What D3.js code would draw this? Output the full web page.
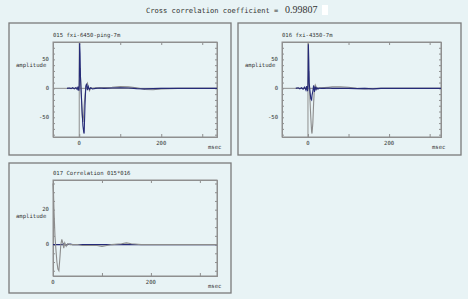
<!DOCTYPE html>
<html>
<head>
<meta charset="utf-8">
<script src="https://cdn.jsdelivr.net/npm/d3@7"></script>
<style>
  html, body { margin: 0; padding: 0; background: #e8f3f5; }
  svg { display: block; }
  text { font-family: "DejaVu Sans Mono", monospace; fill: #333; }
</style>
</head>
<body>
<svg width="468" height="299"></svg>
<script>
"use strict";

// 상단 제목
const titleText = "Cross correlation coefficient =";
const coefValue = "0.99807";

// 패널 제목
const panelTitles = ["015 fxi-6450-ping-7m", "016 fxi-4350-7m", "017 Correlation 015*016"];

// 패널 1 (015) 시간축, 파형 값
const t1 = [-30, -24, -20, -16, -12, -8, -5, -3, -1, 0, 1, 2, 3, 5, 7, 9, 11, 12, 14, 16, 18, 20, 22, 25, 28, 32, 40, 50, 60, 80, 100, 120, 140, 160, 180, 200, 240, 280, 336];
const blue1 = [0, 0.5, -0.5, 1, -1, 1.5, -2, 3, -4, 5, 78, 60, 20, -10, -40, -65, -76, -78, -30, 4, 8, -3, 3, -2, 1, -1, 0, 0.5, 0, 0.5, 1, 0.5, -0.5, -1, -0.5, 0, 0, 0, 0];
const gray1 = [0, 0, 0, 0, 0, 0.5, -1, 1, -2, 2, 20, 35, 20, -10, -45, -58, -45, -30, -12, 0, 6, 9, 2, -4, 1, 0, 1, 1, 1.5, 2, 3, 2.5, 1, -2, -2.5, -1, 0, 0, 0];

// 패널 2 (016)
const t2 = [-30, -24, -20, -16, -12, -8, -5, -3, -1, 0, 1, 2, 3, 5, 7, 9, 10, 12, 14, 16, 18, 20, 22, 25, 28, 32, 40, 50, 60, 80, 100, 120, 140, 160, 180, 200, 240, 280, 328];
const blue2 = [0, 1, -1, 1, -1.5, 2, -3, 4, -5, 4, 76, 50, 10, -5, -18, -20, -12, -5, 5, -6, 3, -2, 1, -1, 0.5, 0, 0, 0.5, 0, 0, 0, -0.5, 0, -1, 0, 0, 0, 0, 0];
const gray2 = [0, 0, 0, 0, 0, 0.5, -1, 2, -2, 3, 20, 30, 10, -20, -50, -75, -78, -60, -25, 0, 6, 3, -2, 1, 0, 1, 1.5, 2, 2.5, 2.5, 2, 0, -1, -0.5, 0, 0, 0, 0, 0];

// 패널 3 (상관)
const t3 = [0, 1, 2, 4, 6, 8, 10, 12, 14, 16, 18, 20, 22, 24, 27, 30, 35, 40, 50, 60, 80, 90, 100, 110, 120, 140, 150, 160, 180, 200, 240, 280, 335];
const gray3 = [35, 30, 20, 5, -3, -10, -14, -15, -8, 0, 3, 1, -2, 1, -1, 0.5, 0, 0, 0, -0.5, -0.5, -0.5, -1, -0.5, 0, 0.5, 1, 0.5, 0, 0, 0, 0, 0];
const blue3 = [0, 0, 0, 0, 0, 0, 0, 0, 0, 0, 0, 0, 0.5, 0, -0.5, 0, 0.3, 0, 0, 0, 0, 0, 0, 0, 0, 0, 0, 0, 0, 0, 0, 0, 0];

const navy = "#252a78";
const grey = "#8c8c8c";
const frame = "#8f8f8f";

const svg = d3.select("svg");

// 패널 레이아웃 설정
const panels = [
  { box: [9, 23, 222, 132], plot: [53, 217, 42, 137], xd: [-64, 336], yd: [-84, 80],
    yLab: [-50, 0, 50], yMinor: 10, labV: 50, msecY: 149,
    t: t1, series: [{ v: gray1, c: grey }, { v: blue1, c: navy }] },
  { box: [238, 23, 223, 132], plot: [282, 441, 42, 137], xd: [-64, 328], yd: [-84, 80],
    yLab: [-50, 0, 50], yMinor: 10, labV: 50, msecY: 149,
    t: t2, series: [{ v: gray2, c: grey }, { v: blue2, c: navy }] },
  { box: [9, 163, 222, 130], plot: [53, 217, 180, 276], xd: [0, 335], yd: [-18, 37],
    yLab: [0, 20], yMinor: 5, labV: 20, msecY: 288,
    t: t3, series: [{ v: blue3, c: navy }, { v: gray3, c: grey }] }
];

// 상단 제목
svg.append("text").attr("x", 146).attr("y", 12.5)
  .style("font-size", "7.1px").text(titleText);
svg.append("text").attr("x", 285).attr("y", 13)
  .style("font-family", "'Liberation Serif', serif").style("font-size", "10px")
  .text(coefValue);
svg.append("rect").attr("x", 322).attr("y", 5).attr("width", 6).attr("height", 10).attr("fill", "#fff");

panels.forEach((p, i) => {
  const [bx, by, bw, bh] = p.box;
  const [x0, x1, y0, y1] = p.plot;
  const x = d3.scaleLinear().domain(p.xd).range([x0, x1]);
  const y = d3.scaleLinear().domain(p.yd).range([y1, y0]);

  svg.append("rect").attr("x", bx).attr("y", by).attr("width", bw).attr("height", bh)
    .attr("fill", "none").attr("stroke", "#7a7a7a").attr("stroke-width", 1.3);

  const g = svg.append("g");

  // 0 기준선
  g.append("line").attr("x1", x0).attr("x2", x1).attr("y1", y(0)).attr("y2", y(0))
    .attr("stroke", frame).attr("stroke-width", 1);
  if (p.xd[0] < 0) {
    g.append("line").attr("x1", x(0)).attr("x2", x(0)).attr("y1", y0).attr("y2", y1)
      .attr("stroke", frame).attr("stroke-width", 1);
  }

  // 축 (눈금은 안쪽)
  const minor = d3.range(Math.ceil(p.yd[0] / p.yMinor) * p.yMinor, p.yd[1] + 0.01, p.yMinor);
  g.append("g").attr("transform", `translate(${x0},0)`)
    .call(d3.axisRight(y).tickValues(minor).tickSize(2).tickFormat(""));
  g.append("g").attr("transform", `translate(${x1},0)`)
    .call(d3.axisLeft(y).tickValues(minor).tickSize(2).tickFormat(""));
  const xt = [0, 100, 200, 300].filter((v) => v >= p.xd[0] && v <= p.xd[1]);
  g.append("g").attr("transform", `translate(0,${y1})`)
    .call(d3.axisTop(x).tickValues(xt).tickSize(3).tickFormat(""));
  g.append("g").attr("transform", `translate(0,${y0})`)
    .call(d3.axisBottom(x).tickValues(xt).tickSize(3).tickFormat(""));
  g.selectAll(".domain").attr("stroke", frame);
  g.selectAll(".tick line").attr("stroke", frame);

  g.append("rect").attr("x", x0).attr("y", y0).attr("width", x1 - x0).attr("height", y1 - y0)
    .attr("fill", "none").attr("stroke", frame).attr("stroke-width", 1);

  // 파형
  const line = d3.line().x((d) => x(d[0])).y((d) => y(d[1]));
  p.series.forEach((s) => {
    g.append("path").datum(p.t.map((tv, k) => [tv, s.v[k]]))
      .attr("d", line).attr("fill", "none").attr("stroke", s.c).attr("stroke-width", 1.1);
  });

  // 라벨
  const fs = "5.6px";
  svg.append("text").attr("x", x0).attr("y", y0 - 5).style("font-size", fs).text(panelTitles[i]);
  svg.append("text").attr("x", bx + 7).attr("y", y(p.labV) + 8).style("font-size", fs).text("amplitude");
  p.yLab.forEach((v) => {
    svg.append("text").attr("x", x0 - 4).attr("y", y(v) + 1.5).attr("text-anchor", "end")
      .style("font-size", fs).text(v);
  });
  [0, 200].forEach((v) => {
    svg.append("text").attr("x", x(v)).attr("y", y1 + 8).attr("text-anchor", "middle")
      .style("font-size", fs).text(v);
  });
  svg.append("text").attr("x", x1 - 9).attr("y", p.msecY).style("font-size", fs).text("msec");
});
</script>
</body>
</html>
